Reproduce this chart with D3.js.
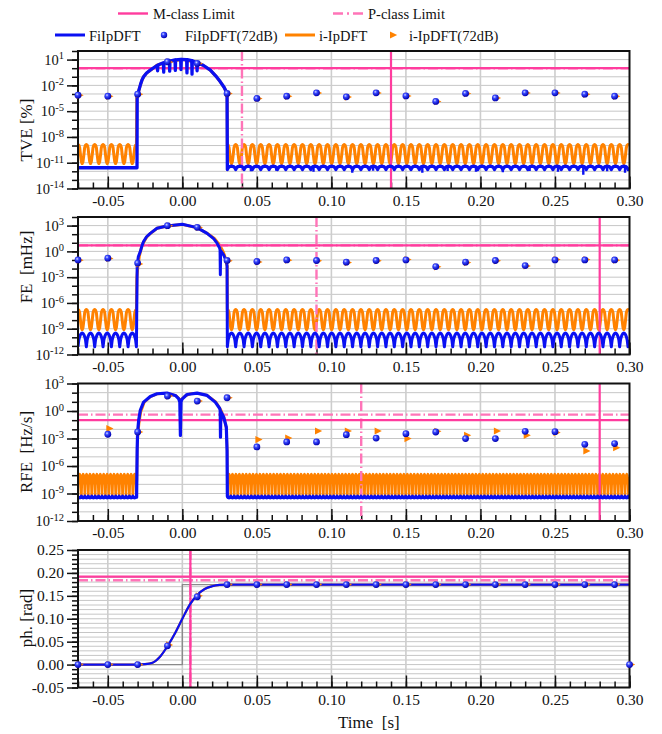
<!DOCTYPE html>
<html>
<head>
<meta charset="utf-8">
<title>FiIpDFT vs i-IpDFT - phase step test</title>
<style>
body { margin: 0; background: #fff; }
svg { display: block; }
svg text { font-family: "Liberation Serif", "Times New Roman", Times, serif !important; fill: #111; }
.grid line { stroke: #c6c6c6; stroke-width: 1; }
.vgrid line { stroke: #cdcdcd; stroke-width: 1.6; }
.axis path { display: none; }
.axis line { stroke: #111; stroke-width: 1.5; }
.axis text { font-size: 15.5px; }
.logaxis text { font-size: 14.5px; }
.frame { fill: none; stroke: #111; stroke-width: 2; }
.title { font-size: 17px; white-space: pre; }
.legend text { font-size: 14.5px; }
</style>
</head>
<body>
<svg width="662" height="734"></svg>
<script src="https://d3js.org/d3.v7.min.js"></script>
<script>

// ---- data ----
var xTicks = [-0.05, 0, 0.05, 0.10, 0.15, 0.20, 0.25, 0.30];

// 72 dB runs: one estimate every 20 ms (last one only in phase panel)
var dotTimes = [-0.07, -0.05, -0.03, -0.01, 0.01, 0.03, 0.05, 0.07, 0.09, 0.11, 0.13, 0.15, 0.17, 0.19, 0.21, 0.23, 0.25, 0.27, 0.29, 0.30];
var tveDots = [7.2e-4, 5.5e-4, 9.5e-4, 5.6, 3.6, 1.15e-3, 3.0e-4, 5.5e-4, 1.35e-3, 4.6e-4, 1.35e-3, 6.0e-4, 1.35e-4, 1.15e-3, 3.5e-4, 1.35e-3, 1.35e-3, 9.5e-4, 5.5e-4, null];
var tveTris = [7.0e-4, 5.3e-4, 9.0e-4, 5.4, 3.5, 1.1e-3, 2.9e-4, 5.3e-4, 1.3e-3, 4.4e-4, 1.3e-3, 5.8e-4, 1.3e-4, 1.1e-3, 3.4e-4, 1.3e-3, 1.3e-3, 9.0e-4, 5.3e-4, null];
var feDots = [0.102, 0.162, 0.043, 977, 631, 0.087, 0.066, 0.102, 0.087, 0.056, 0.087, 0.102, 0.017, 0.056, 0.087, 0.022, 0.102, 0.102, 0.102, null];
var feTris = [0.095, 0.15, 0.035, 950, 610, 0.08, 0.06, 0.095, 0.08, 0.05, 0.08, 0.11, 0.016, 0.05, 0.08, 0.02, 0.11, 0.11, 0.095, null];
var rfeDots = [null, 2.9e-3, 5.1e-3, 42, 12, 28, 1.2e-4, 4.2e-4, 4.2e-4, 2.6e-3, 1.1e-3, 3.4e-3, 5.1e-3, 9.8e-4, 9.8e-4, 6.0e-3, 5.6e-3, 2.3e-4, 2.8e-4, null];
var rfeTris = [null, 1.2e-2, 5.1e-3, 42, 12, 28, 7.6e-4, 1.1e-3, 6.6e-3, 6.6e-3, 6.6e-3, 9.8e-4, 6.0e-3, 2.2e-3, 6.6e-3, 2.2e-3, 4.4e-3, 4.4e-5, 1.0e-4, null];
var phDots = [0, 0, 0, 0.041, 0.148, 0.1745, 0.1745, 0.1745, 0.1745, 0.1745, 0.1745, 0.1745, 0.1745, 0.1745, 0.1745, 0.1745, 0.1745, 0.1745, 0.1745, 0];
var phTris = [0, 0, 0, 0.043, 0.150, 0.1745, 0.1745, 0.1745, 0.1745, 0.1745, 0.1745, 0.1745, 0.1745, 0.1745, 0.1745, 0.1745, 0.1745, 0.1745, 0.1745, 0];

// transient part of the noiseless runs
var tveBlueT = [-0.0303, -0.0296, -0.0288, -0.0280, -0.0270, -0.0260, -0.0240, -0.0215, -0.0190, -0.0168, -0.0166, -0.0164, -0.0127, -0.0125, -0.0123, -0.0087, -0.0085, -0.0083, -0.0049, -0.0047, -0.0045, -0.0011, -0.0009, -0.0007, 0.0029, 0.0031, 0.0033, 0.0063, 0.0065, 0.0067, 0.0097, 0.0099, 0.0101, 0.0140, 0.0188, 0.0225, 0.0255, 0.0280, 0.0295, 0.0300];
var tveBlueV = [4.7e-4, 1.5e-3, 4.5e-3, 1.4e-2, 4.5e-2, 0.1, 0.28, 0.6, 1.2, 2.2, 0.5, 2.3, 4.2, 0.35, 4.4, 6.6, 0.45, 6.8, 9.1, 0.56, 9.3, 10.6, 0.7, 10.6, 10, 0.28, 9.8, 7.5, 0.2, 7.3, 4.3, 0.5, 4.2, 2.2, 0.6, 0.12, 0.026, 6e-3, 1.8e-3, 4.7e-4];
var tveOrangeT = [-0.0305, -0.0296, -0.0288, -0.0280, -0.0270, -0.0260, -0.0240, -0.0215, -0.0190, -0.0170, -0.0103, 0, 0.0099, 0.0140, 0.0188, 0.0225, 0.0255, 0.0280, 0.0295, 0.0301];
var tveOrangeV = [4e-4, 1.4e-3, 4.3e-3, 1.3e-2, 4.3e-2, 0.1, 0.27, 0.58, 1.15, 2.2, 5.5, 10.5, 4.2, 2.1, 0.58, 0.12, 0.025, 6e-3, 1.7e-3, 4e-4];

var feBlueT = [-0.0303, -0.0295, -0.0282, -0.0270, -0.0260, -0.0240, -0.0215, -0.0170, -0.0103, 0, 0.0099, 0.0166, 0.0210, 0.0233, 0.0250, 0.0253, 0.0255, 0.0257, 0.0277, 0.0295, 0.0300];
var feBlueV = [0.027, 0.25, 0.95, 5, 14, 50, 126, 490, 912, 1400, 575, 126, 30, 9, 2.5, 1.5, 0.0019, 1.2, 0.4, 0.066, 0.02];
var feOrangeT = [-0.0305, -0.0298, -0.0288, -0.0275, -0.0262, -0.0240, -0.0215, -0.0170, -0.0103, 0, 0.0099, 0.0166, 0.0215, 0.0240, 0.0258, 0.0275, 0.0290, 0.0301];
var feOrangeV = [8e-4, 0.02, 0.3, 2.5, 10, 45, 120, 480, 900, 1380, 570, 130, 32, 9, 3, 0.8, 0.15, 0.02];

var rfeBlueT = [-0.0303, -0.0300, -0.0293, -0.0282, -0.0260, -0.0215, -0.0170, -0.0103, -0.0047, -0.0025, -0.0017, -0.0013, -0.0009, -0.0002, 0.0031, 0.0099, 0.0166, 0.0221, 0.0250, 0.0254, 0.0256, 0.0258, 0.0277, 0.0295, 0.0300];
var rfeBlueV = [8e-5, 5.1e-3, 0.095, 1.2, 9.3, 39, 76, 89, 50, 22, 10, 2.2e-3, 10, 20, 63, 89, 50, 9.3, 2, 1.2, 1.4e-3, 0.9, 0.22, 0.018, 5.2e-5];
var rfeOrangeT = [-0.0305, -0.0303, -0.0298, -0.0290, -0.0278, -0.0255, -0.0215, -0.0170, -0.0103, -0.0040, -0.0012, 0.0015, 0.0060, 0.0099, 0.0166, 0.0225, 0.0260, 0.0280, 0.0296, 0.0301];
var rfeOrangeV = [3e-8, 5e-5, 2e-3, 0.05, 0.8, 9, 35, 72, 86, 45, 15, 40, 80, 88, 52, 10, 1.2, 0.2, 0.01, 5e-5];

var phaseT = [-0.07, -0.03, -0.025, -0.02, -0.015, -0.01, -0.005, 0, 0.005, 0.01, 0.015, 0.02, 0.025, 0.03, 0.30];
var phaseV = [0, 0, 0.0008, 0.004, 0.017, 0.040, 0.068, 0.100, 0.131, 0.152, 0.165, 0.171, 0.1738, 0.1745, 0.1745];
var stepT = [-0.07, 0, 0, 0.30];
var stepV = [0, 0, 0.1745, 0.1745];

// steady-state ripple: [top, bottom, period (s)]
var tveOrangeRipple = [1.3e-9, 8e-12, 0.0056];
var tveBlueFloor = 2.6e-12;
var tveBlueRipple = [4e-12, 1.6e-12, 0.0056];
var tveSpikeT = [0.046, 0.063, 0.088, 0.114, 0.128, 0.161, 0.178, 0.197, 0.215, 0.233, 0.252, 0.269, 0.285, 0.297];
var tveSpikeV = [1.0e-12, 1.2e-12, 0.9e-12, 0.7e-12, 1.2e-12, 0.7e-12, 1.1e-12, 0.9e-12, 0.8e-12, 1.1e-12, 0.9e-12, 0.4e-12, 1.0e-12, 0.7e-12];
var feOrangeRipple = [1.7e-7, 8e-10, 0.0056];
var feBlueRipple = [3.2e-10, 8e-12, 0.0056];
var rfeOrangeRipple = [1.3e-7, 6.5e-10, 0.0023];
var rfeBlueRipple = [5e-10, 3.4e-10, 0.0023];
// one ripple period, fraction of (top-bottom) in log units
var shapeDip = [1, 0.97, 0.85, 0.45, 0.1, 0, 0.1, 0.45, 0.85, 0.97, 1];
var shapeN = [0, 0.5, 0.74, 0.88, 0.96, 1, 0.96, 0.88, 0.74, 0.5, 0];
var shapeU = [1, 0.42, 0.18, 0.07, 0.02, 0, 0.02, 0.07, 0.18, 0.42, 1];

// limits
var mLimitY = [1, 5, 0.1, 0.192];
var pLimitY = [1, 5, 0.4, 0.184];
var mLimitT = [0.14, 0.28, 0.28, 0.0054];
var pLimitT = [0.04, 0.09, 0.12, 0.0054];

var titles = ["TVE [%]", "FE  [mHz]", "RFE  [Hz/s]", "ph. [rad]"];

// ---- layout ----
var svg = d3.select("svg");
var plotL = 78, plotR = 629.5, plotH = 137.5;
var tops = [51, 217, 383.5, 550];
var titleMid = [130, 267, 452, 618];
var blue = "#0a10f2", orange = "#ff8200", pinkM = "#ff3c9e", pinkP = "#ff74b8";

var x = d3.scaleLinear().domain([-0.07, 0.30]).range([plotL, plotR]);
var xMinor = d3.range(-7, 31).map(function(i) { return i / 100; });

var defs = svg.append("defs");
var grad = defs.append("radialGradient").attr("id", "ball").attr("cx", "38%").attr("cy", "35%").attr("r", "65%");
grad.append("stop").attr("offset", "0%").attr("stop-color", "#d8dcff");
grad.append("stop").attr("offset", "35%").attr("stop-color", "#3848ff");
grad.append("stop").attr("offset", "100%").attr("stop-color", "#0000b0");

function zip(t, v) { return t.map(function(d, i) { return [d, v[i]]; }); }

function ripple(t0, t1, spec, shape) {
  var top = Math.log10(spec[0]), bot = Math.log10(spec[1]), per = spec[2];
  var n = shape.length - 1, pts = [];
  for (var s = t0; s < t1; s += per) {
    shape.forEach(function(f, i) {
      var t = s + per * i / n;
      if (t <= t1) pts.push([t, Math.pow(10, bot + f * (top - bot))]);
    });
  }
  return pts;
}

var panels = [];
function makePanel(i, y, hGrid, minorY, majorY, isLog) {
  var top = tops[i], bottom = top + plotH;
  y.range([bottom, top]);
  var g = svg.append("g");
  defs.append("clipPath").attr("id", "clip" + i).append("rect")
    .attr("x", plotL).attr("y", top).attr("width", plotR - plotL).attr("height", plotH);

  g.append("g").attr("class", "grid").selectAll("line").data(hGrid).join("line")
    .attr("x1", plotL).attr("x2", plotR)
    .attr("y1", function(d) { return y(d); }).attr("y2", function(d) { return y(d); });
  g.append("g").attr("class", "vgrid").selectAll("line").data(xTicks.slice(0, -1)).join("line")
    .attr("x1", function(d) { return x(d); }).attr("x2", function(d) { return x(d); })
    .attr("y1", top).attr("y2", bottom);

  g.append("g").attr("class", "axis").attr("transform", "translate(0," + bottom + ")")
    .call(d3.axisBottom(x).tickValues(xMinor).tickSize(-6).tickFormat(""));
  g.append("g").attr("class", "axis").attr("transform", "translate(0," + bottom + ")")
    .call(d3.axisBottom(x).tickValues(xTicks).tickSize(-12).tickPadding(6)
      .tickFormat(function(d) { return d.toFixed(2); }));
  g.append("g").attr("class", "axis").attr("transform", "translate(" + plotL + ",0)")
    .call(d3.axisLeft(y).tickValues(minorY).tickSize(6).tickFormat(""));
  var ya = g.append("g").attr("class", "axis" + (isLog ? " logaxis" : "")).attr("transform", "translate(" + plotL + ",0)")
    .call(d3.axisLeft(y).tickValues(majorY).tickSize(11).tickPadding(3)
      .tickFormat(function(d) { return isLog ? "" : d.toFixed(2); }));
  if (isLog) {
    ya.selectAll(".tick text").each(function(d) {
      var t = d3.select(this).text(null);
      t.append("tspan").text("10");
      t.append("tspan").attr("dy", "-0.5em").style("font-size", "10.5px")
        .text(Math.round(Math.log10(d)));
    });
  }
  g.selectAll(".axis").attr("font-family", null).attr("font-size", null);

  svg.append("text").attr("class", "title")
    .attr("transform", "translate(32," + titleMid[i] + ") rotate(-90)")
    .attr("text-anchor", "middle").text(titles[i]);

  var data = svg.append("g").attr("clip-path", "url(#clip" + i + ")");
  var p = { g: g, data: data, y: y, top: top, bottom: bottom };
  panels.push(p);
  return p;
}

function decades(lo, hi) { return d3.range(lo, hi + 1).map(function(e) { return Math.pow(10, e); }); }

var p1 = makePanel(0, d3.scaleLog().domain([1e-14, 1e2]), decades(-14, 2), decades(-14, 2), decades(-14, 1).filter(function(d, i) { return i % 3 === 0; }), true);
var p2 = makePanel(1, d3.scaleLog().domain([1e-12, 1e4]), decades(-12, 4), decades(-12, 4), decades(-12, 3).filter(function(d, i) { return i % 3 === 0; }), true);
var p3 = makePanel(2, d3.scaleLog().domain([1e-12, 1e3]), decades(-12, 3), decades(-12, 3), decades(-12, 3).filter(function(d, i) { return i % 3 === 0; }), true);
var phGrid = d3.range(-5, 26).map(function(i) { return i / 100; });
var p4 = makePanel(3, d3.scaleLinear().domain([-0.05, 0.25]), phGrid, phGrid, [-0.05, 0, 0.05, 0.10, 0.15, 0.20, 0.25], false);

function path(p, pts, color, width) {
  var line = d3.line().defined(function(d) { return d[1] != null; })
    .x(function(d) { return x(d[0]); }).y(function(d) { return p.y(d[1]); });
  p.data.append("path").attr("d", line(pts)).attr("fill", "none")
    .attr("stroke", color).attr("stroke-width", width)
    .attr("stroke-linejoin", "round").attr("stroke-linecap", "butt");
}

function limits(p, i) {
  var dash = "10,3,1.5,3";
  p.data.append("line").attr("x1", plotL).attr("x2", plotR)
    .attr("y1", p.y(pLimitY[i])).attr("y2", p.y(pLimitY[i]))
    .attr("stroke", pinkP).attr("stroke-width", 2.4).attr("stroke-dasharray", dash);
  p.data.append("line").attr("x1", x(pLimitT[i])).attr("x2", x(pLimitT[i]))
    .attr("y1", p.top).attr("y2", p.bottom)
    .attr("stroke", pinkP).attr("stroke-width", 2.4).attr("stroke-dasharray", dash);
  p.data.append("line").attr("x1", plotL).attr("x2", plotR)
    .attr("y1", p.y(mLimitY[i])).attr("y2", p.y(mLimitY[i]))
    .attr("stroke", pinkM).attr("stroke-width", 2.2);
  p.data.append("line").attr("x1", x(mLimitT[i])).attr("x2", x(mLimitT[i]))
    .attr("y1", p.top).attr("y2", p.bottom)
    .attr("stroke", pinkM).attr("stroke-width", 2.2);
}

function markers(p, dots, tris) {
  var m = svg.append("g");
  m.selectAll("path").data(zip(dotTimes, tris).filter(function(d) { return d[1] != null; })).join("path")
    .attr("d", "M-3,-3.6L4.2,0L-3,3.6Z").attr("fill", orange)
    .attr("transform", function(d) { return "translate(" + (x(d[0]) + 1.5) + "," + p.y(d[1]) + ")"; });
  m.selectAll("circle").data(zip(dotTimes, dots).filter(function(d) { return d[1] != null; })).join("circle")
    .attr("cx", function(d) { return x(d[0]); }).attr("cy", function(d) { return p.y(d[1]); })
    .attr("r", 3.4).attr("fill", "url(#ball)");
}

function frame(p) {
  svg.append("rect").attr("class", "frame")
    .attr("x", plotL).attr("y", p.top).attr("width", plotR - plotL).attr("height", plotH);
}

// TVE
path(p1, ripple(-0.07, -0.0306, tveOrangeRipple, shapeDip)
  .concat(zip(tveOrangeT, tveOrangeV), ripple(0.0302, 0.30, tveOrangeRipple, shapeDip)), orange, 3);
limits(p1, 0);
path(p1, [[-0.07, tveBlueFloor], [-0.0304, tveBlueFloor]]
  .concat(zip(tveBlueT, tveBlueV), ripple(0.0302, 0.30, tveBlueRipple, shapeN)), blue, 3.3);
tveSpikeT.forEach(function(t, i) {
  p1.data.append("line").attr("x1", x(t)).attr("x2", x(t))
    .attr("y1", p1.y(tveBlueFloor)).attr("y2", p1.y(tveSpikeV[i]))
    .attr("stroke", blue).attr("stroke-width", 2.4);
});
frame(p1);
markers(p1, tveDots, tveTris);

// FE
path(p2, ripple(-0.07, -0.0306, feOrangeRipple, shapeDip)
  .concat(zip(feOrangeT, feOrangeV), ripple(0.0302, 0.30, feOrangeRipple, shapeDip)), orange, 3);
limits(p2, 1);
path(p2, ripple(-0.07, -0.0305, feBlueRipple, shapeN)
  .concat(zip(feBlueT, feBlueV), ripple(0.0302, 0.30, feBlueRipple, shapeN)), blue, 3);
frame(p2);
markers(p2, feDots, feTris);

// RFE
path(p3, ripple(-0.07, -0.0306, rfeOrangeRipple, shapeN)
  .concat(zip(rfeOrangeT, rfeOrangeV), ripple(0.0302, 0.30, rfeOrangeRipple, shapeN)), orange, 2.6);
limits(p3, 2);
path(p3, ripple(-0.07, -0.0305, rfeBlueRipple, shapeU)
  .concat(zip(rfeBlueT, rfeBlueV), ripple(0.0302, 0.30, rfeBlueRipple, shapeU)), blue, 3.2);
frame(p3);
markers(p3, rfeDots, rfeTris);

// phase
path(p4, zip(stepT, stepV), "#8a8a8a", 1.4);
limits(p4, 3);
var smooth = d3.line().curve(d3.curveMonotoneX)
  .x(function(d) { return x(d[0]); }).y(function(d) { return p4.y(d[1]); });
p4.data.append("path").attr("d", smooth(zip(phaseT, phaseV))).attr("fill", "none")
  .attr("stroke", orange).attr("stroke-width", 2.2);
p4.data.append("path").attr("d", smooth(zip(phaseT, phaseV))).attr("fill", "none")
  .attr("stroke", blue).attr("stroke-width", 2.2);
frame(p4);
markers(p4, phDots, phTris);

svg.append("text").attr("class", "title").attr("x", 338).attr("y", 728).text("Time  [s]");

// legend
var lg = svg.append("g").attr("class", "legend");
lg.append("line").attr("x1", 118).attr("x2", 148).attr("y1", 13.5).attr("y2", 13.5).attr("stroke", pinkM).attr("stroke-width", 2.4);
lg.append("text").attr("x", 153).attr("y", 19).text("M-class Limit");
lg.append("line").attr("x1", 333).attr("x2", 363).attr("y1", 13.5).attr("y2", 13.5).attr("stroke", pinkP).attr("stroke-width", 2.4).attr("stroke-dasharray", "10,4,2,4");
lg.append("text").attr("x", 368).attr("y", 19).text("P-class Limit");
lg.append("line").attr("x1", 55).attr("x2", 85).attr("y1", 35).attr("y2", 35).attr("stroke", blue).attr("stroke-width", 3);
lg.append("text").attr("x", 89).attr("y", 41).text("FiIpDFT");
lg.append("circle").attr("cx", 164).attr("cy", 35).attr("r", 3.2).attr("fill", "url(#ball)");
lg.append("text").attr("x", 185).attr("y", 41).text("FiIpDFT(72dB)");
lg.append("line").attr("x1", 285).attr("x2", 315).attr("y1", 35).attr("y2", 35).attr("stroke", orange).attr("stroke-width", 3);
lg.append("text").attr("x", 319).attr("y", 41).text("i-IpDFT");
lg.append("path").attr("d", "M-3,-3.6L4.2,0L-3,3.6Z").attr("fill", orange).attr("transform", "translate(393,35)");
lg.append("text").attr("x", 409).attr("y", 41).text("i-IpDFT(72dB)");

</script>
</body>
</html>
